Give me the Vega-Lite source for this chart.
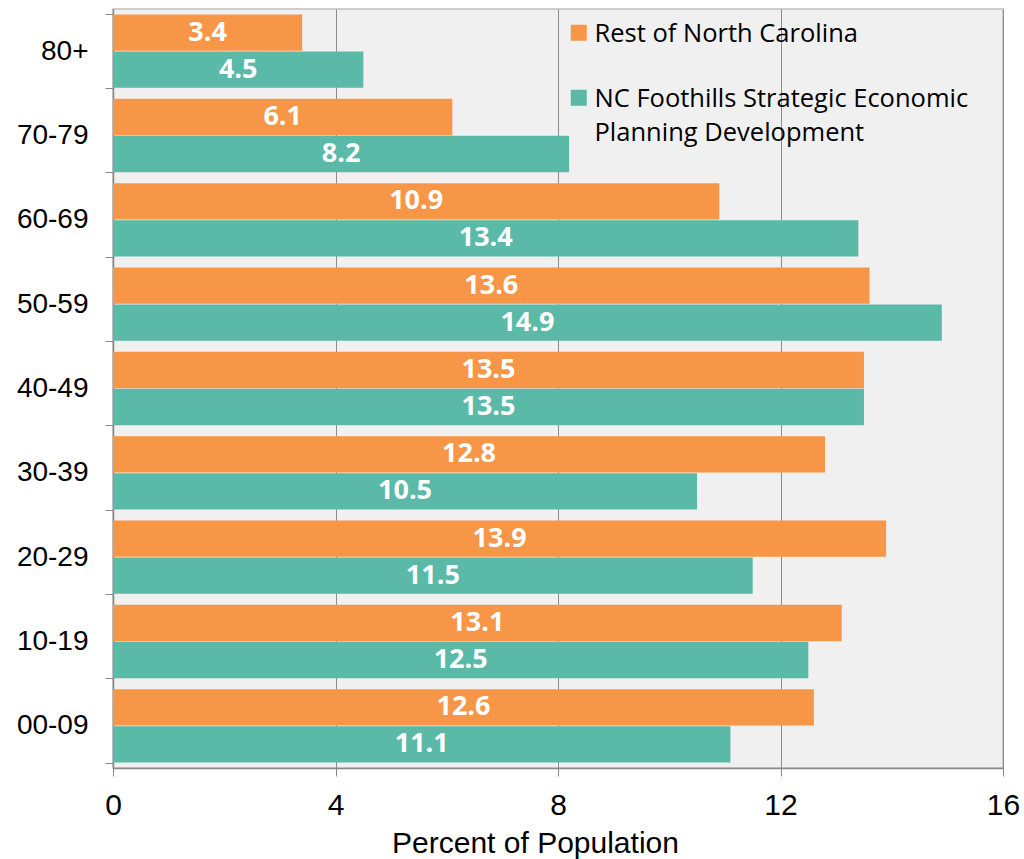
{
  "$schema": "https://vega.github.io/schema/vega-lite/v6.json",
  "autosize": "none",
  "width": 890,
  "height": 759,
  "padding": {"left": 113, "top": 9, "right": 21, "bottom": 91},
  "background": "white",
  "config": {
    "view": {"fill": "#f0f0f0", "stroke": "#bfbfbf", "strokeWidth": 1.5},
    "font": "Liberation Sans"
  },
  "data": {
    "values": [
      {"age": "80+", "series": "Rest of North Carolina", "value": 3.4},
      {"age": "80+", "series": "NC Foothills Strategic Economic Planning Development", "value": 4.5},
      {"age": "70-79", "series": "Rest of North Carolina", "value": 6.1},
      {"age": "70-79", "series": "NC Foothills Strategic Economic Planning Development", "value": 8.2},
      {"age": "60-69", "series": "Rest of North Carolina", "value": 10.9},
      {"age": "60-69", "series": "NC Foothills Strategic Economic Planning Development", "value": 13.4},
      {"age": "50-59", "series": "Rest of North Carolina", "value": 13.6},
      {"age": "50-59", "series": "NC Foothills Strategic Economic Planning Development", "value": 14.9},
      {"age": "40-49", "series": "Rest of North Carolina", "value": 13.5},
      {"age": "40-49", "series": "NC Foothills Strategic Economic Planning Development", "value": 13.5},
      {"age": "30-39", "series": "Rest of North Carolina", "value": 12.8},
      {"age": "30-39", "series": "NC Foothills Strategic Economic Planning Development", "value": 10.5},
      {"age": "20-29", "series": "Rest of North Carolina", "value": 13.9},
      {"age": "20-29", "series": "NC Foothills Strategic Economic Planning Development", "value": 11.5},
      {"age": "10-19", "series": "Rest of North Carolina", "value": 13.1},
      {"age": "10-19", "series": "NC Foothills Strategic Economic Planning Development", "value": 12.5},
      {"age": "00-09", "series": "Rest of North Carolina", "value": 12.6},
      {"age": "00-09", "series": "NC Foothills Strategic Economic Planning Development", "value": 11.1}
    ]
  },
  "encoding": {
    "y": {
      "field": "age",
      "type": "nominal",
      "sort": ["80+", "70-79", "60-69", "50-59", "40-49", "30-39", "20-29", "10-19", "00-09"],
      "scale": {"paddingInner": 0.13, "paddingOuter": 0.065},
      "axis": {
        "title": null,
        "labelFont": "Liberation Sans",
        "labelFontSize": 28,
        "labelColor": "#000000",
        "labelPadding": 17,
        "tickBand": "extent",
        "tickSize": 8,
        "tickColor": "#888888",
        "domainColor": "#888888",
        "domainWidth": 1.5,
        "grid": false
      }
    },
    "yOffset": {
      "field": "series",
      "type": "nominal",
      "sort": ["Rest of North Carolina", "NC Foothills Strategic Economic Planning Development"],
      "scale": {"paddingInner": 0.02}
    }
  },
  "layer": [
    {
      "mark": {"type": "bar"},
      "encoding": {
        "x": {
          "field": "value",
          "type": "quantitative",
          "scale": {"domain": [0, 16], "nice": false},
          "axis": {
            "values": [0, 4, 8, 12, 16],
            "format": "d",
            "labelFlush": false,
            "title": "Percent of Population",
            "titleFont": "Liberation Sans",
            "titleFontSize": 30,
            "titleFontWeight": "normal",
            "titleColor": "#000000",
            "titlePadding": 8,
            "titleX": 422,
            "titleAlign": "center",
            "labelFont": "Liberation Sans",
            "labelFontSize": 30,
            "labelColor": "#000000",
            "labelPadding": 14,
            "tickSize": 8,
            "tickColor": "#888888",
            "domainColor": "#888888",
            "domainWidth": 1.5,
            "grid": true,
            "gridColor": "#8c8c8c",
            "gridWidth": 1
          }
        },
        "color": {
          "field": "series",
          "type": "nominal",
          "sort": ["Rest of North Carolina", "NC Foothills Strategic Economic Planning Development"],
          "scale": {"range": ["#F79646", "#5BB9A7"]},
          "legend": {
            "orient": "none",
            "legendX": 453,
            "legendY": 11,
            "title": null,
            "symbolType": "square",
            "symbolSize": 256,
            "symbolStrokeWidth": 0,
            "labelFont": "Open Sans",
            "labelFontSize": 25.5,
            "labelColor": "#000000",
            "labelLimit": 500,
            "labelOffset": 3,
            "labelBaseline": "alphabetic",
            "rowPadding": 37,
            "encode": {
              "labels": {"update": {"lineHeight": {"value": 34}, "dy": {"value": 9}}}
            },
            "labelExpr": "datum.label == 'NC Foothills Strategic Economic Planning Development' ? ['NC Foothills Strategic Economic', 'Planning Development'] : datum.label"
          }
        }
      }
    },
    {
      "transform": [{"calculate": "datum.value / 2", "as": "mid"}],
      "mark": {"type": "text", "color": "white", "font": "Open Sans", "fontWeight": "bold", "fontSize": 27, "align": "center", "baseline": "middle"},
      "encoding": {
        "x": {"field": "mid", "type": "quantitative"},
        "text": {"field": "value", "type": "quantitative", "format": ".1f"}
      }
    }
  ]
}
